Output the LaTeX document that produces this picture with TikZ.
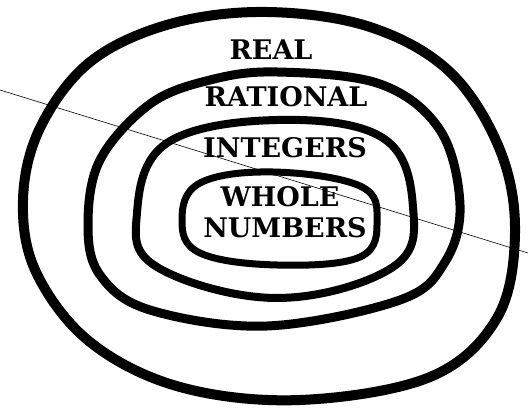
\documentclass[tikz,border=0pt]{standalone}
\usepackage{fontspec}
\setmainfont{DejaVu Serif}
\begin{document}
\begin{tikzpicture}[x=1pt,y=-1pt,
  ring/.style={draw=black,line join=round},
  lbl/.style={font=\fontsize{27}{29}\selectfont\bfseries,inner sep=0pt,anchor=center}]
\useasboundingbox[fill=white] (0,0) rectangle (528,409);
% faint scan line
\draw[line width=0.6pt] (0,90) -- (528,253);
% outer ring (REAL)
\draw[ring,line width=10pt] plot[smooth cycle,tension=0.6] coordinates
 {(267,12) (370,27) (450,72) (500,150) (515,233) (497,318) (430,377) (300,400) (180,387) (90,342) (36,272) (23,200) (40,128) (90,62) (170,24)};
% RATIONAL
\draw[ring,line width=9pt] plot[smooth cycle,tension=0.6] coordinates
 {(277,72) (380,84) (440,130) (460,205) (445,262) (400,300) (267,326) (150,310) (100,275) (88,225) (100,160) (150,104) (210,80)};
% INTEGERS
\draw[ring,line width=8pt] plot[smooth cycle,tension=0.65] coordinates
 {(277,120) (383,138) (413,207) (393,267) (277,298) (157,267) (137,213) (167,143)};
% WHOLE NUMBERS
\draw[ring,line width=7pt] plot[smooth cycle,tension=0.65] coordinates
 {(273,172) (360,186) (377,220) (360,257) (277,265) (200,253) (182,220) (200,183)};
\node[lbl] (real) at (271,50) {REAL};
\node[lbl] (rational) at (286,97) {RATIONAL};
\node[lbl] (integers) at (285,148) {INTEGERS};
\node[lbl] (whole) at (280,197) {WHOLE};
\node[lbl] (numbers) at (285,228) {NUMBERS};
\end{tikzpicture}
\end{document}
